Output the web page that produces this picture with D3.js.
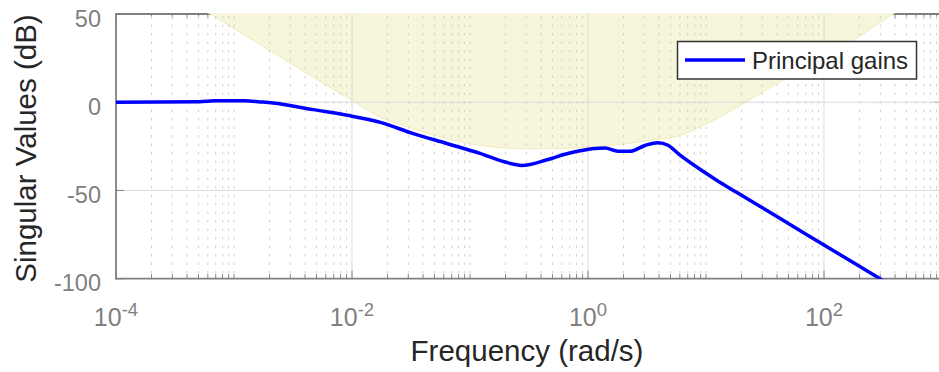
<!DOCTYPE html>
<html>
<head>
<meta charset="utf-8">
<script src="https://cdn.jsdelivr.net/npm/d3@7"></script>
<style>
  html, body { margin: 0; padding: 0; background: #fff; }
  svg { display: block; font-family: "Liberation Sans", Arial, Helvetica, sans-serif; }
</style>
</head>
<body>
<svg id="chart" width="939" height="372"></svg>
<script>
// ---- data ----
const curveFreq = [0.0001, 0.00051, 0.00069, 0.00123, 0.00166, 0.00214, 0.00468, 0.00912, 0.0174, 0.0331, 0.0646, 0.1216, 0.198, 0.276, 0.450, 0.638, 0.855, 1.146, 1.393, 1.795, 2.270, 3.04, 3.92, 4.76, 6.03, 8.89, 12.4, 18.3, 45.0, 100, 298.5, 1000];
const curveDb   = [0, 0.3, 0.8, 0.8, 0.2, -0.4, -4.2, -7.4, -11.4, -17.8, -23.5, -29, -33.9, -35.8, -32.6, -29.5, -27.5, -26.2, -26, -27.8, -27.8, -24.5, -22.9, -24.4, -30, -38, -44.3, -51.2, -66.9, -80.9, -100, -121.2];

const boundFreq = [0.0001, 0.000627, 0.01, 0.01726, 0.0329, 0.0638, 0.1216, 0.304, 0.579, 1.265, 2.404, 3.35, 6.03, 8.89, 42.4, 176, 385, 1000];
const boundDb   = [82, 50, 1, -8.3, -15, -20.6, -24.4, -26.4, -26.2, -25, -23, -21.5, -18.8, -14, 11.5, 35, 50, 67];

const yTickValues = [50, 0, -50, -100];
const xTickExponents = [-4, -2, 0, 2];
const seriesName = "Principal gains";
const xLabel = "Frequency (rad/s)";
const yLabel = "Singular Values (dB)";

// ---- layout ----
const L = 116, R = 942, T = 14, B = 278.7;
const svg = d3.select("#chart");

const x = d3.scaleLog().domain([1e-4, 1e3]).range([L, R]);
const y = d3.scaleLinear().domain([-100, 50]).range([B, T]);

const defs = svg.append("defs");
defs.append("clipPath").attr("id", "plotClip")
  .append("rect").attr("x", L).attr("y", T - 1).attr("width", R - L).attr("height", B - T + 1);

const axisColor = "#808080";

const minorX = [];
for (let e = -4; e < 3; e++) {
  for (let m = 1; m <= 9; m++) {
    const v = m * Math.pow(10, e);
    if (m === 1 && e % 2 === 0) continue;
    minorX.push(v);
  }
}
const majorX = xTickExponents.map(e => Math.pow(10, e));

// top + right of box (drawn first so the shaded region covers the top edge)
const boxG = svg.append("g");
boxG.append("line").attr("x1", L).attr("x2", R).attr("y1", T).attr("y2", T)
  .attr("stroke", axisColor).attr("stroke-width", 1.8);
boxG.selectAll(".tmin").data(minorX).join("line")
  .attr("x1", d => x(d)).attr("x2", d => x(d)).attr("y1", T).attr("y2", T + 4.5)
  .attr("stroke", axisColor).attr("stroke-width", 1);
boxG.selectAll(".tmaj").data(majorX).join("line")
  .attr("x1", d => x(d)).attr("x2", d => x(d)).attr("y1", T).attr("y2", T + 8)
  .attr("stroke", axisColor).attr("stroke-width", 1);
boxG.append("line").attr("x1", R).attr("x2", R).attr("y1", T).attr("y2", B)
  .attr("stroke", axisColor).attr("stroke-width", 1.8);
boxG.selectAll(".rt").data(yTickValues).join("line")
  .attr("x1", R).attr("x2", R - 8).attr("y1", d => y(d)).attr("y2", d => y(d))
  .attr("stroke", axisColor).attr("stroke-width", 1);

// shaded region
const area = d3.area()
  .x((d, i) => x(boundFreq[i]))
  .y0(() => y(90))
  .y1((d, i) => y(boundDb[i]))
  .curve(d3.curveMonotoneX);
const plotG = svg.append("g").attr("clip-path", "url(#plotClip)");
plotG.append("path").datum(boundFreq).attr("d", area)
  .attr("fill", "#f7f5da").attr("stroke", "none");
const bline = d3.line()
  .x((d, i) => x(boundFreq[i]))
  .y((d, i) => y(boundDb[i]))
  .curve(d3.curveMonotoneX);
plotG.append("path").datum(boundFreq).attr("d", bline)
  .attr("fill", "none").attr("stroke", "#efebbd").attr("stroke-width", 1);

// grid
const gridG = svg.append("g");
gridG.selectAll(".gmin").data(minorX).join("line")
  .attr("x1", d => x(d)).attr("x2", d => x(d)).attr("y1", T + 2).attr("y2", B)
  .attr("stroke", "#cfcfcf").attr("stroke-width", 1).attr("stroke-dasharray", "2.5,6");
gridG.selectAll(".gmaj").data(majorX.filter(d => d > 1e-4)).join("line")
  .attr("x1", d => x(d)).attr("x2", d => x(d)).attr("y1", T).attr("y2", B)
  .attr("stroke", "#d9d9d9").attr("stroke-width", 1);
gridG.selectAll(".gy").data(yTickValues.filter(d => d > -100 && d < 50)).join("line")
  .attr("x1", L).attr("x2", R).attr("y1", d => y(d)).attr("y2", d => y(d))
  .attr("stroke", "#d9d9d9").attr("stroke-width", 1);

// left + bottom axes
const axG = svg.append("g");
axG.append("line").attr("x1", L).attr("x2", L).attr("y1", T - 0.9).attr("y2", B + 0.9)
  .attr("stroke", axisColor).attr("stroke-width", 1.8);
axG.append("line").attr("x1", L - 0.9).attr("x2", R).attr("y1", B).attr("y2", B)
  .attr("stroke", axisColor).attr("stroke-width", 1.8);
axG.selectAll(".bmin").data(minorX).join("line")
  .attr("x1", d => x(d)).attr("x2", d => x(d)).attr("y1", B).attr("y2", B - 4.5)
  .attr("stroke", axisColor).attr("stroke-width", 1);
axG.selectAll(".bmaj").data(majorX).join("line")
  .attr("x1", d => x(d)).attr("x2", d => x(d)).attr("y1", B).attr("y2", B - 8)
  .attr("stroke", axisColor).attr("stroke-width", 1);
axG.selectAll(".lt").data(yTickValues).join("line")
  .attr("x1", L).attr("x2", L + 8).attr("y1", d => y(d)).attr("y2", d => y(d))
  .attr("stroke", axisColor).attr("stroke-width", 1);

// curve
const line = d3.line()
  .x((d, i) => x(curveFreq[i]))
  .y((d, i) => y(curveDb[i]))
  .curve(d3.curveMonotoneX);
svg.append("g").attr("clip-path", "url(#plotClip)")
  .append("path").datum(curveFreq).attr("d", line)
  .attr("fill", "none").attr("stroke", "#0000ff").attr("stroke-width", 3.5)
  .attr("stroke-linejoin", "round");

// y tick labels
svg.append("g").selectAll("text").data(yTickValues).join("text")
  .attr("x", 101).attr("y", d => y(d) + 12.5)
  .attr("text-anchor", "end").attr("font-size", 23.5).attr("fill", "#808080")
  .text(d => d);

// x tick labels
const xl = svg.append("g").selectAll("text").data(xTickExponents).join("text")
  .attr("x", e => x(Math.pow(10, e))).attr("y", 326)
  .attr("text-anchor", "middle").attr("fill", "#808080").attr("font-size", 25);
xl.append("tspan").text("10");
xl.append("tspan").attr("dy", -10).attr("font-size", 18.5).text(e => e);

// axis labels
svg.append("text").attr("x", 527).attr("y", 361).attr("text-anchor", "middle")
  .attr("font-size", 29.5).attr("fill", "#262626").text(xLabel);
svg.append("text").attr("transform", "translate(36,148.5) rotate(-90)")
  .attr("text-anchor", "middle").attr("font-size", 29.5).attr("fill", "#262626").text(yLabel);

// legend
const lg = svg.append("g");
lg.append("rect").attr("x", 677.5).attr("y", 41.5).attr("width", 239).attr("height", 37.5)
  .attr("fill", "#fff").attr("stroke", "#333").attr("stroke-width", 1.5);
lg.append("line").attr("x1", 685).attr("x2", 745).attr("y1", 60).attr("y2", 60)
  .attr("stroke", "#0000ff").attr("stroke-width", 3.5);
lg.append("text").attr("x", 752).attr("y", 68.5).attr("font-size", 24).attr("fill", "#262626")
  .text(seriesName);
</script>
</body>
</html>
